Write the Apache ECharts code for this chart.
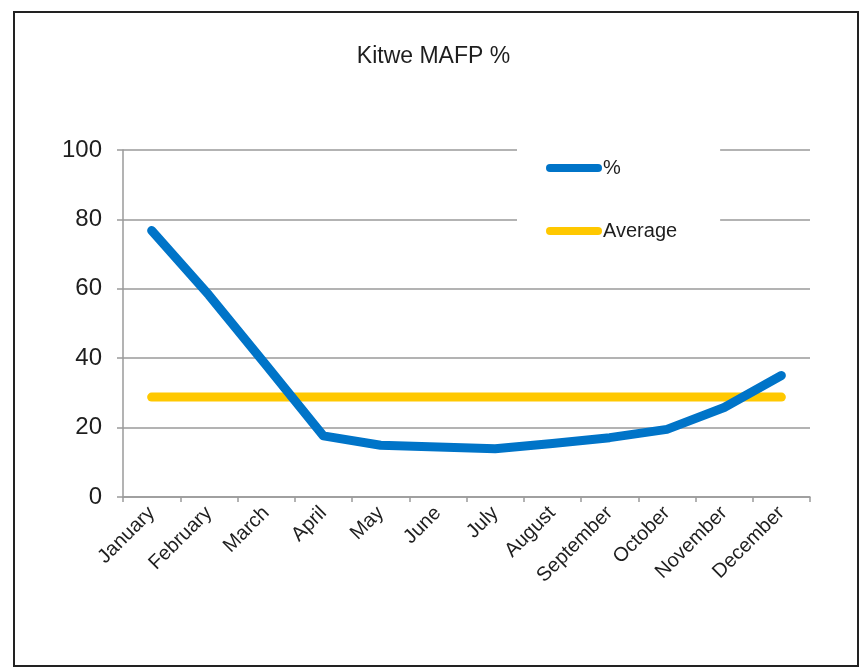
<!DOCTYPE html>
<html>
<head>
<meta charset="utf-8">
<title>Kitwe MAFP %</title>
<script src="https://cdn.jsdelivr.net/npm/echarts@6/dist/echarts.min.js"></script>
<style>
  html, body { margin: 0; padding: 0; background: #fff; }
  #chart { width: 867px; height: 668px; }
</style>
</head>
<body>
<div id="chart"></div>
<script>
// Monthly MAFP percentage for Kitwe and its yearly average
const months = ['January', 'February', 'March', 'April', 'May', 'June',
  'July', 'August', 'September', 'October', 'November', 'December'];
const pctValues = [76.8, 58.2, 38.0, 17.6, 14.9, 14.4, 13.9, 15.4, 17.1, 19.5, 25.8, 35.0];
const avgValues = [28.8, 28.8, 28.8, 28.8, 28.8, 28.8, 28.8, 28.8, 28.8, 28.8, 28.8, 28.8];
const yTicks = [0, 20, 40, 60, 80, 100];

const FONT = '"Liberation Sans", Arial, sans-serif';
const TEXT = '#1e1e1e';
const GRAY = '#9a9a9a';
const legendIcon = 'path://M4,0 H52 A4,4 0 0 1 52,8 H4 A4,4 0 0 1 4,0 Z';

const chart = echarts.init(document.getElementById('chart'), null, { renderer: 'canvas' });

chart.setOption({
  backgroundColor: '#fff',
  animation: false,
  title: {
    text: 'Kitwe MAFP %',
    left: 'center',
    top: 40,
    textStyle: { fontFamily: FONT, fontSize: 23, fontWeight: 'normal', color: TEXT }
  },
  graphic: [{
    type: 'rect',
    z: 100,
    shape: { x: 14, y: 12, width: 844, height: 654 },
    style: { fill: 'none', stroke: '#222', lineWidth: 2 },
    silent: true
  }],
  legend: {
    orient: 'vertical',
    left: 517,
    top: 144,
    padding: [14, 43, 18, 29],
    backgroundColor: '#fff',
    itemWidth: 56,
    itemHeight: 8,
    itemGap: 43,
    textStyle: { fontFamily: FONT, fontSize: 20, color: TEXT, padding: [8, 0, 0, -4] },
    data: [
      { name: '%', icon: legendIcon, itemStyle: { color: '#0074C8' } },
      { name: 'Average', icon: legendIcon, itemStyle: { color: '#FFC800' } }
    ]
  },
  grid: { left: 123, right: 57, top: 150, bottom: 171, containLabel: false },
  xAxis: {
    type: 'category',
    data: months,
    boundaryGap: true,
    axisLine: { lineStyle: { color: GRAY, width: 1.5 } },
    axisTick: { show: true, length: 5, alignWithLabel: false, lineStyle: { color: GRAY, width: 1.5 } },
    axisLabel: {
      interval: 0,
      rotate: 45,
      margin: 13,
      fontFamily: FONT,
      fontSize: 20,
      color: TEXT
    }
  },
  yAxis: {
    type: 'value',
    min: yTicks[0],
    max: yTicks[yTicks.length - 1],
    interval: yTicks[1] - yTicks[0],
    axisLine: { show: true, lineStyle: { color: GRAY, width: 1.5 } },
    axisTick: { show: true, length: 6, lineStyle: { color: GRAY, width: 1.5 } },
    splitLine: { show: true, lineStyle: { color: GRAY, width: 1.5 } },
    axisLabel: { margin: 21, fontFamily: FONT, fontSize: 24, color: TEXT }
  },
  series: [
    {
      name: '%',
      type: 'line',
      data: pctValues,
      symbol: 'none',
      z: 3,
      lineStyle: { color: '#0074C8', width: 9, cap: 'round', join: 'round' },
      itemStyle: { color: '#0074C8' }
    },
    {
      name: 'Average',
      type: 'line',
      data: avgValues,
      symbol: 'none',
      z: 2,
      lineStyle: { color: '#FFC800', width: 9, cap: 'round', join: 'round' },
      itemStyle: { color: '#FFC800' }
    }
  ]
});
</script>
</body>
</html>
